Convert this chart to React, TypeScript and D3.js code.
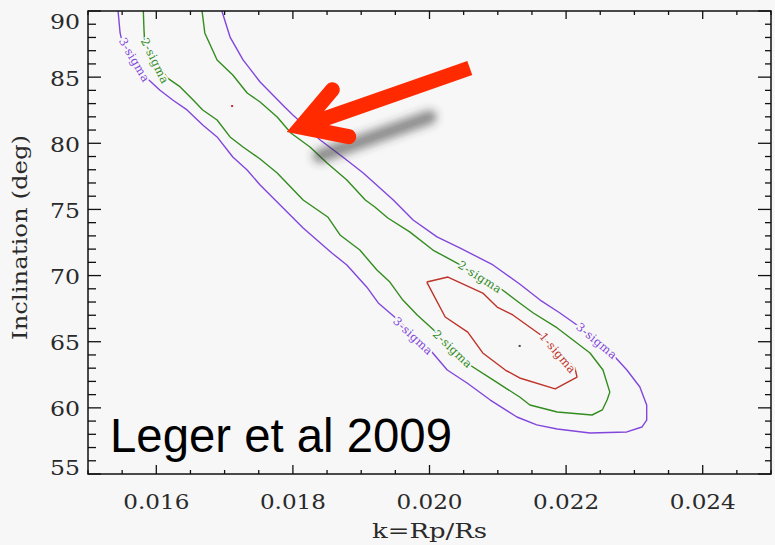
import React from "react";
import * as d3 from "d3";

// ---- data ----
const xDomain: [number, number] = [0.015, 0.025];
const yDomain: [number, number] = [55, 90];
const xMajorTicks = [0.016, 0.018, 0.02, 0.022, 0.024];
const yMajorTicks = [55, 60, 65, 70, 75, 80, 85, 90];
const xTitle = "k=Rp/Rs";
const yTitle = "Inclination (deg)";
const annotationText = "Leger et al 2009";

// 3-sigma contour [k, inclination]
const sigma3: [number, number][] = [
  [0.01544, 90.0], [0.01547, 88.34], [0.0155, 87.66], [0.01586, 84.94], [0.01605, 84.03],
  [0.01624, 83.27], [0.01645, 82.52], [0.01668, 81.38], [0.01689, 80.48], [0.01712, 78.96],
  [0.01733, 77.98], [0.01752, 76.85], [0.01774, 75.71], [0.01815, 73.6], [0.01857, 71.71],
  [0.01879, 70.8], [0.01908, 69.14], [0.01925, 67.93], [0.01954, 66.64], [0.01976, 65.43],
  [0.02001, 64.37], [0.02026, 62.86], [0.02055, 61.88], [0.02089, 60.59], [0.02128, 59.31],
  [0.02157, 58.71], [0.02187, 58.4], [0.02235, 58.1], [0.02289, 58.18], [0.02311, 58.55],
  [0.02318, 59.08], [0.02318, 60.22], [0.02308, 61.58], [0.02289, 62.86], [0.02269, 64.0],
  [0.02245, 65.06], [0.0222, 66.11], [0.02191, 67.17], [0.02162, 68.15], [0.02132, 69.36],
  [0.02093, 70.8], [0.02045, 72.08], [0.02011, 72.92], [0.01976, 74.2], [0.01947, 75.71],
  [0.01903, 77.75], [0.01873, 78.96], [0.0184, 80.25], [0.018, 82.14], [0.01788, 82.74],
  [0.01752, 84.63], [0.01727, 86.3], [0.01708, 88.03], [0.01696, 90.0],
];

// 2-sigma contour
const sigma2: [number, number][] = [
  [0.01581, 90.0], [0.01582, 88.56], [0.01583, 87.58], [0.01616, 84.94], [0.01635, 84.26],
  [0.01654, 83.27], [0.01668, 82.52], [0.01689, 81.76], [0.01708, 80.48], [0.01727, 79.72],
  [0.01752, 78.81], [0.01777, 77.75], [0.01815, 75.71], [0.01851, 74.43], [0.01869, 73.07],
  [0.01898, 71.93], [0.01923, 70.42], [0.01942, 69.51], [0.01961, 68.15], [0.01982, 67.02],
  [0.02011, 65.66], [0.02059, 63.24], [0.02093, 62.11], [0.02132, 60.82], [0.02147, 60.22],
  [0.02187, 59.69], [0.02238, 59.46], [0.02253, 59.84], [0.0226, 60.59], [0.02264, 61.19],
  [0.02254, 62.86], [0.02235, 64.15], [0.02187, 66.04], [0.02152, 67.17], [0.02132, 67.93],
  [0.02103, 69.06], [0.02045, 70.8], [0.02005, 71.93], [0.01971, 73.3], [0.01939, 74.35],
  [0.0192, 75.18], [0.01906, 75.71], [0.01879, 77.22], [0.0185, 78.51], [0.01825, 79.72],
  [0.01797, 80.78], [0.01777, 81.99], [0.01752, 83.12], [0.01733, 83.8], [0.01712, 85.16],
  [0.01689, 86.3], [0.01671, 88.34], [0.01667, 90.0],
];

// 1-sigma contour (closed)
const sigma1: [number, number][] = [
  [0.01996, 69.51], [0.02027, 69.89], [0.02078, 68.68], [0.02099, 67.62], [0.02122, 67.02],
  [0.02165, 65.43], [0.02213, 63.01], [0.02216, 62.33], [0.02184, 61.43], [0.02132, 62.26],
  [0.02111, 62.86], [0.02078, 64.15], [0.02056, 65.73], [0.02023, 66.87], [0.01996, 69.51],
];

// contour labels: text, level (1/2/3), position [k, inclination]
const contourLabels: { text: string; level: number; at: [number, number] }[] = [
  { text: "3-sigma", level: 3, at: [0.01568, 86.3] },
  { text: "2-sigma", level: 2, at: [0.01598, 86.22] },
  { text: "3-sigma", level: 3, at: [0.01976, 65.43] },
  { text: "2-sigma", level: 2, at: [0.02034, 64.45] },
  { text: "2-sigma", level: 2, at: [0.02074, 69.89] },
  { text: "3-sigma", level: 3, at: [0.02245, 65.06] },
  { text: "1-sigma", level: 1, at: [0.02188, 64.15] },
];

// best-fit markers
const bestFitDots: { level: number; at: [number, number] }[] = [
  { level: 1, at: [0.01711, 82.82] },
  { level: 0, at: [0.02132, 64.68] },
];

// arrow annotation (tip and tail in data coordinates)
const arrowTip: [number, number] = [0.01791, 80.85];
const arrowTail: [number, number] = [0.02059, 85.69];

// ---- styling ----
const W = 775;
const H = 545;
const BG = "#f7f7f7";
const colors: Record<number, string> = { 0: "#444", 1: "#be3228", 2: "#328c1e", 3: "#8246dc" };
const serif = "'DejaVu Serif', serif";

export default function App() {
  const x = d3.scaleLinear().domain(xDomain).range([88, 771]);
  const y = d3.scaleLinear().domain(yDomain).range([474, 11]);
  const [x0, x1] = x.range();
  const [y0, y1] = y.range(); // y0 bottom, y1 top

  const line = d3
    .line<[number, number]>()
    .x((d) => x(d[0]))
    .y((d) => y(d[1]));

  const contours: { level: number; pts: [number, number][] }[] = [
    { level: 3, pts: sigma3 },
    { level: 2, pts: sigma2 },
    { level: 1, pts: sigma1 },
  ];

  const xMinor = x.ticks(20);
  const yMinor = y.ticks(35);

  // label angle from neighbouring contour vertices (pixel space)
  const labelAngle = (level: number, at: [number, number]) => {
    const pts = contours.find((c) => c.level === level)!.pts.map((p) => [x(p[0]), y(p[1])]);
    const px = x(at[0]);
    const py = y(at[1]);
    let best = 0;
    let bd = Infinity;
    pts.forEach((p, i) => {
      const d = Math.hypot(p[0] - px, p[1] - py);
      if (d < bd) {
        bd = d;
        best = i;
      }
    });
    const a = pts[Math.max(0, best - 1)];
    const b = pts[Math.min(pts.length - 1, best + 1)];
    let ang = (Math.atan2(b[1] - a[1], b[0] - a[0]) * 180) / Math.PI;
    if (ang > 90) ang -= 180;
    if (ang < -90) ang += 180;
    return ang;
  };

  // arrow geometry
  const tip = [x(arrowTip[0]), y(arrowTip[1])];
  const tail = [x(arrowTail[0]), y(arrowTail[1])];
  const len = Math.hypot(tail[0] - tip[0], tail[1] - tip[1]);
  const dir = [(tail[0] - tip[0]) / len, (tail[1] - tip[1]) / len];
  const sw = 15;
  const half = (30.5 * Math.PI) / 180;
  const vOff = sw / 2 / Math.sin(half);
  const vertex = [tip[0] + dir[0] * vOff, tip[1] + dir[1] * vOff];
  const rot = (v: number[], a: number) => [v[0] * Math.cos(a) - v[1] * Math.sin(a), v[0] * Math.sin(a) + v[1] * Math.cos(a)];
  const wl = 49;
  const w1 = rot(dir, -half);
  const w2 = rot(dir, half);
  const wing1 = [vertex[0] + w1[0] * wl, vertex[1] + w1[1] * wl];
  const wing2 = [vertex[0] + w2[0] * wl, vertex[1] + w2[1] * wl];

  const yLabelDy = (v: number) => (v === yDomain[1] ? 18 : v === yDomain[0] ? 1 : 8.5);

  return (
    <div style={{ position: "fixed", left: 0, top: 0 }}>
      <svg width={W} height={H} style={{ display: "block" }}>
        <defs>
          <filter id="blur" x="-50%" y="-50%" width="200%" height="200%">
            <feGaussianBlur stdDeviation="4" />
          </filter>
        </defs>
        <rect x={0} y={0} width={W} height={H} fill={BG} />

        {/* contours */}
        {contours.map((c) => (
          <path key={c.level} d={line(c.pts) || ""} fill="none" stroke={colors[c.level]} strokeWidth={1.4} strokeLinejoin="round" />
        ))}

        {/* contour labels */}
        {contourLabels.map((l, i) => (
          <text
            key={i}
            transform={`translate(${x(l.at[0])},${y(l.at[1])}) rotate(${labelAngle(l.level, l.at)})`}
            textAnchor="middle"
            dy="0.35em"
            fontFamily={serif}
            fontSize={11.5}
            letterSpacing={0.5}
            fill={colors[l.level]}
            stroke={BG}
            strokeWidth={4}
            style={{ paintOrder: "stroke" }}
          >
            {l.text}
          </text>
        ))}

        {bestFitDots.map((d, i) => (
          <rect key={i} x={x(d.at[0]) - 1} y={y(d.at[1]) - 1} width={2} height={2} fill={colors[d.level]} />
        ))}

        {/* frame */}
        <rect x={x0} y={y1} width={x1 - x0} height={y0 - y1} fill="none" stroke="#111" strokeWidth={1.5} />

        {/* x ticks bottom & top */}
        {xMinor.map((t, i) => {
          const major = xMajorTicks.some((m) => Math.abs(m - t) < 1e-9);
          return (
            <g key={i} stroke="#111" strokeWidth={1.3}>
              <line x1={x(t)} x2={x(t)} y1={y0} y2={y0 - (major ? 9 : 4)} />
              <line x1={x(t)} x2={x(t)} y1={y1} y2={y1 + (major ? 8 : 4)} />
            </g>
          );
        })}
        {/* y ticks left & right */}
        {yMinor.map((t, i) => {
          const major = yMajorTicks.includes(t);
          return (
            <g key={i} stroke="#111" strokeWidth={1.3}>
              <line x1={x0} x2={x0 + (major ? 13 : 8)} y1={y(t)} y2={y(t)} />
              <line x1={x1} x2={x1 - (major ? 13 : 6)} y1={y(t)} y2={y(t)} />
            </g>
          );
        })}

        {/* tick labels */}
        {xMajorTicks.map((t) => (
          <text key={t} x={x(t)} y={509} textAnchor="middle" fontFamily={serif} fontSize={20.5} fill="#2a2a2a" textLength={66} lengthAdjust="spacingAndGlyphs">
            {d3.format(".3f")(t)}
          </text>
        ))}
        {yMajorTicks.map((t) => (
          <text key={t} x={80} y={y(t) + yLabelDy(t)} textAnchor="end" fontFamily={serif} fontSize={20.5} fill="#2a2a2a" textLength={30} lengthAdjust="spacingAndGlyphs">
            {t}
          </text>
        ))}

        {/* axis titles */}
        <text x={(x(0.0195) + x(0.0205)) / 2} y={538} textAnchor="middle" fontFamily={serif} fontSize={20} fill="#2a2a2a" textLength={115} lengthAdjust="spacingAndGlyphs">
          {xTitle}
        </text>
        <text transform={`translate(27,237.5) rotate(-90)`} textAnchor="middle" fontFamily={serif} fontSize={20} fill="#2a2a2a" textLength={205} lengthAdjust="spacingAndGlyphs">
          {yTitle}
        </text>

        {/* annotation text */}
        <text x={110} y={452} fontFamily="'Liberation Sans', Arial, sans-serif" fontSize={48} fill="#000" textLength={342} lengthAdjust="spacingAndGlyphs">
          {annotationText}
        </text>

        {/* arrow shadow */}
        <line
          x1={tip[0] + 33}
          y1={tip[1] + 24}
          x2={tip[0] + 143}
          y2={tip[1] - 15}
          stroke="#333"
          strokeOpacity={0.55}
          strokeWidth={14}
          strokeLinecap="round"
          filter="url(#blur)"
        />
        {/* arrow */}
        <line x1={vertex[0]} y1={vertex[1]} x2={tail[0]} y2={tail[1]} stroke="#ff2a00" strokeWidth={sw} strokeLinecap="butt" />
        <path
          d={`M${wing1[0]},${wing1[1]} L${vertex[0]},${vertex[1]} L${wing2[0]},${wing2[1]}`}
          fill="none"
          stroke="#ff2a00"
          strokeWidth={sw}
          strokeLinejoin="miter"
          strokeMiterlimit={6}
          strokeLinecap="round"
        />
      </svg>
    </div>
  );
}
